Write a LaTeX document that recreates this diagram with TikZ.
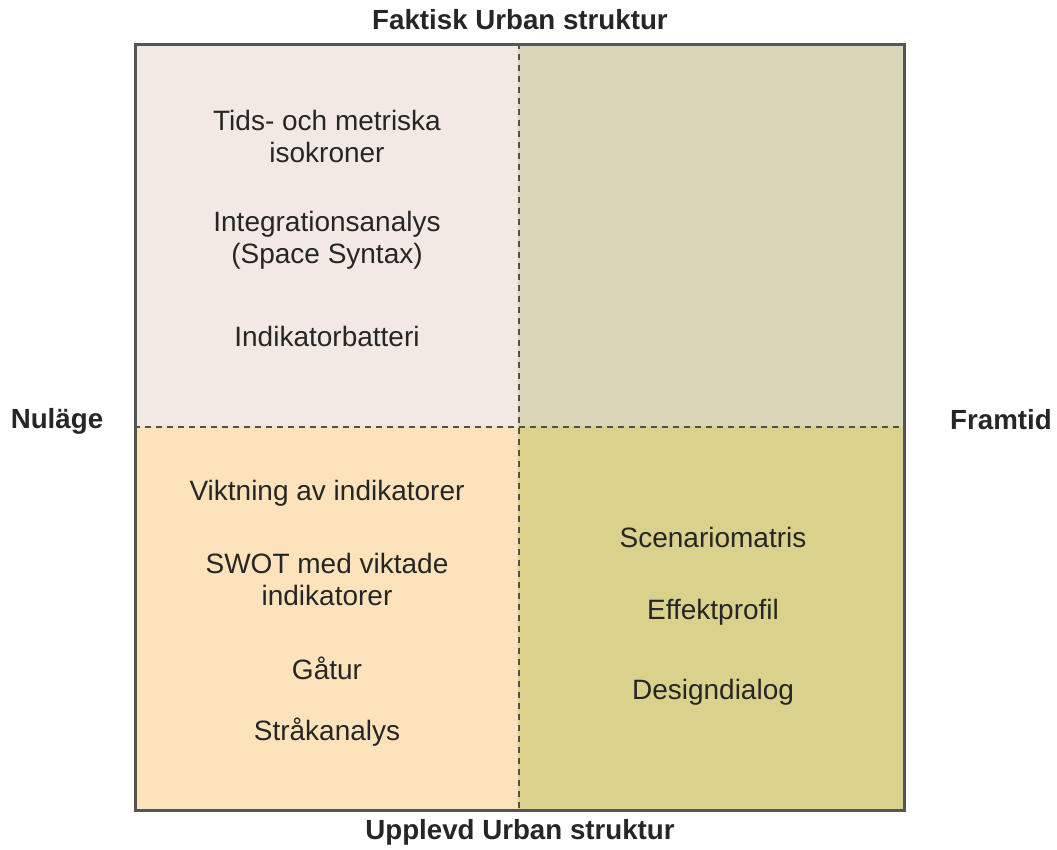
\documentclass[tikz,border=0pt]{standalone}
\usepackage{fontspec}
\setmainfont{Liberation Sans}
\definecolor{qTL}{HTML}{F2E9E3}
\definecolor{qTR}{HTML}{DAD7B8}
\definecolor{qBL}{HTML}{FDE3BB}
\definecolor{qBR}{HTML}{DAD28C}
\definecolor{frameC}{HTML}{555555}
\definecolor{dashC}{HTML}{505050}
\tikzset{
  quad/.style={draw=none,minimum width=385pt,minimum height=383pt,inner sep=0pt},
  txt/.style={align=center,font=\fontsize{28}{32}\selectfont,text=black!85,inner sep=0pt},
  head/.style={font=\fontsize{27.7}{32}\selectfont\bfseries,text=black!85,inner sep=0pt},
  divider/.style={draw=dashC,line width=2.4pt,dash pattern=on 6pt off 5pt},
  framebox/.style={draw=frameC,line width=3pt}
}
\begin{document}
\begin{tikzpicture}[x=1pt,y=-1pt]
\useasboundingbox[fill=white] (0,0) rectangle (1057,850);
% quadrants
\node[quad,fill=qTL,anchor=north west] (tl) at (134,43) {};
\node[quad,fill=qTR,anchor=north east] (tr) at (903,43) {};
\node[quad,fill=qBL,anchor=south west] (bl) at (134,809) {};
\node[quad,fill=qBR,anchor=south east] (br) at (903,809) {};
% dividers
\coordinate (vt) at (519,43);
\coordinate (vb) at (519,809);
\coordinate (hl) at (134,427);
\coordinate (hr) at (903,427);
\draw[divider] (vt) -- (vb);
\draw[divider] (hl) -- (hr);
% frame
\node[framebox,minimum width=769pt,minimum height=766pt,inner sep=0pt,anchor=north west] (frame) at (134,43) {};
% axis labels
\node[head] (top) at (520,20) {Faktisk Urban struktur};
\node[head] (bottom) at (520,832) {Upplevd Urban struktur};
\node[head] (left) at (57,421) {Nuläge};
\node[head] (right) at (1001,420) {Framtid};
% top-left
\node[txt] (t1) at (327,136) {Tids- och metriska\\isokroner};
\node[txt] (t2) at (327,240) {Integrationsanalys\\(Space Syntax)};
\node[txt] (t3) at (327,336) {Indikatorbatteri};
% bottom-left
\node[txt] (b1) at (327,493) {Viktning av indikatorer};
\node[txt] (b2) at (327,579) {SWOT med viktade\\indikatorer};
\node[txt] (b3) at (327,668) {Gåtur};
\node[txt] (b4) at (327,732) {Stråkanalys};
% bottom-right
\node[txt] (r1) at (713,537) {Scenariomatris};
\node[txt] (r2) at (713,612) {Effektprofil};
\node[txt] (r3) at (713,692) {Designdialog};
\end{tikzpicture}
\end{document}
